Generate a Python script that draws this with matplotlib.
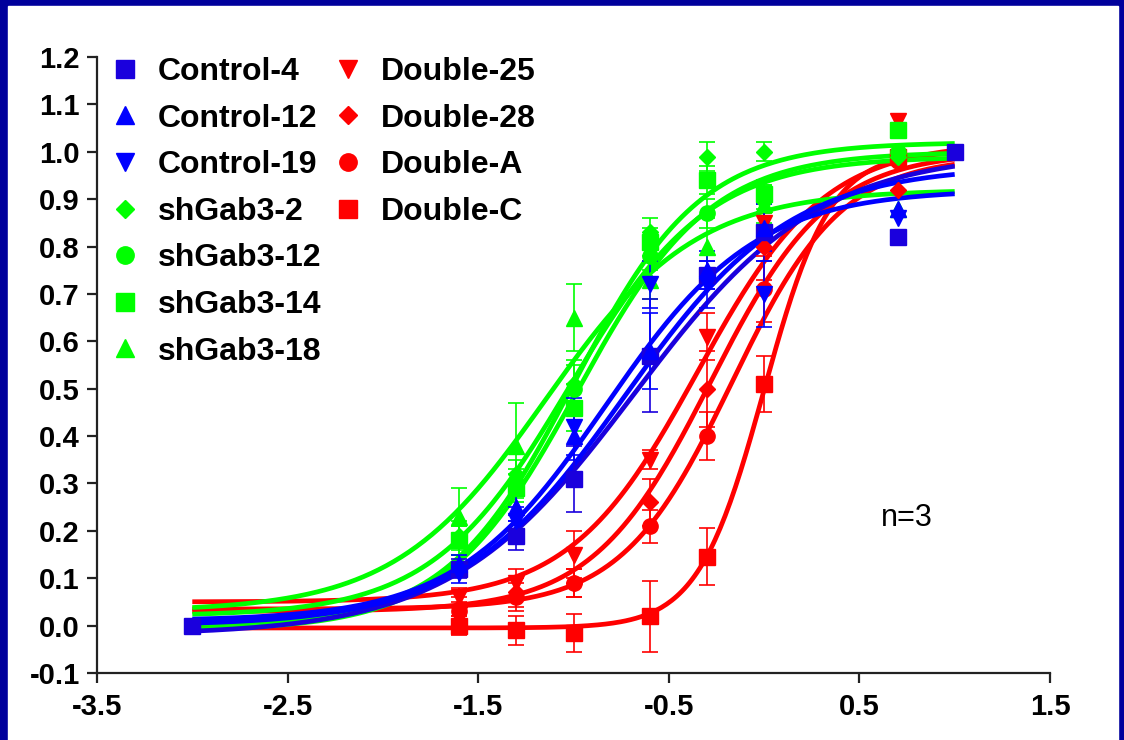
import numpy as np
import matplotlib.pyplot as plt
from matplotlib.lines import Line2D
from matplotlib.patches import Rectangle

plt.rcParams['font.family'] = ['Liberation Sans', 'DejaVu Sans']
plt.rcParams['axes.unicode_minus'] = False

# log concentration of the doses
doses = [-1.6, -1.3, -1.0, -0.6, -0.3, 0.0, 0.7]

labels = ['Control-4', 'Control-12', 'Control-19',
          'shGab3-2', 'shGab3-12', 'shGab3-14', 'shGab3-18',
          'Double-25', 'Double-28', 'Double-A', 'Double-C']

# mean response per dose (Control-4 also has points at -3 and 1)
ctrl4_x = [-3.0] + doses + [1.0]
ctrl4_y = [0.00, 0.12, 0.19, 0.31, 0.57, 0.74, 0.83, 0.82, 1.00]
ctrl4_e = [0.00, 0.02, 0.03, 0.07, 0.12, 0.03, 0.06, 0.00, 0.00]
ctrl12_y = [0.13, 0.25, 0.40, 0.58, 0.75, 0.84, 0.88]
ctrl12_e = [0.02, 0.03, 0.05, 0.08, 0.04, 0.05, 0.00]
ctrl19_y = [0.11, 0.22, 0.42, 0.72, 0.72, 0.70, 0.86]
ctrl19_e = [0.02, 0.03, 0.06, 0.05, 0.05, 0.07, 0.00]
sh2_y = [0.19, 0.32, 0.51, 0.83, 0.99, 1.00, 0.99]
sh2_e = [0.03, 0.03, 0.05, 0.03, 0.03, 0.02, 0.00]
sh12_y = [0.18, 0.30, 0.50, 0.78, 0.87, 0.90, 1.00]
sh12_e = [0.03, 0.03, 0.05, 0.03, 0.03, 0.03, 0.00]
sh14_y = [0.18, 0.29, 0.46, 0.81, 0.94, 0.91, 1.045]
sh14_e = [0.03, 0.03, 0.05, 0.03, 0.03, 0.03, 0.00]
sh18_y = [0.23, 0.38, 0.65, 0.73, 0.80, 0.89, 0.88]
sh18_e = [0.06, 0.09, 0.07, 0.04, 0.06, 0.04, 0.00]
dbl25_y = [0.06, 0.09, 0.15, 0.35, 0.61, 0.85, 1.065]
dbl25_e = [0.02, 0.03, 0.05, 0.02, 0.05, 0.05, 0.00]
dbl28_y = [0.04, 0.07, 0.09, 0.26, 0.50, 0.80, 0.92]
dbl28_e = [0.02, 0.03, 0.03, 0.05, 0.08, 0.07, 0.00]
dblA_y = [0.03, 0.06, 0.09, 0.21, 0.40, 0.71, 0.98]
dblA_e = [0.02, 0.03, 0.03, 0.035, 0.05, 0.07, 0.00]
dblC_y = [0.00, -0.01, -0.015, 0.02, 0.145, 0.51, 0.99]
dblC_e = [0.02, 0.03, 0.04, 0.075, 0.06, 0.06, 0.00]

# four-parameter logistic fit of each line
fit_bottom = [-0.02, 0.00, 0.01, 0.00, 0.02, -0.01, 0.03, 0.05, 0.03, 0.035, -0.005]
fit_top = [1.00, 0.97, 0.92, 1.02, 0.99, 1.00, 0.92, 1.02, 1.00, 0.99, 1.00]
fit_logec50 = [-0.68, -0.73, -0.83, -1.00, -1.02, -0.98, -1.15, -0.35, -0.28, -0.17, 0.00]
fit_hill = [0.90, 1.00, 1.10, 1.30, 1.20, 1.25, 1.10, 1.30, 1.40, 1.50, 2.50]

xs = [ctrl4_x] + [doses] * 10
ys = [ctrl4_y, ctrl12_y, ctrl19_y, sh2_y, sh12_y, sh14_y, sh18_y,
      dbl25_y, dbl28_y, dblA_y, dblC_y]
es = [ctrl4_e, ctrl12_e, ctrl19_e, sh2_e, sh12_e, sh14_e, sh18_e,
      dbl25_e, dbl28_e, dblA_e, dblC_e]

blue = '#0000FF'
green = '#00FF00'
red = '#FF0000'
colors = ['#1A00DD', blue, blue, green, green, green, green, red, red, red, red]
markers = ['s', '^', 'v', 'D', 'o', 's', '^', 'v', 'D', 'o', 's']

fig = plt.figure(figsize=(11.24, 7.40), dpi=100, facecolor='#00009C')
fig.add_artist(Rectangle((8 / 1124, 0), 1110 / 1124, 734 / 740,
                         transform=fig.transFigure, color='white', zorder=-5))
ax = fig.add_axes([97 / 1124, 67 / 740, 953 / 1124, 616 / 740])
ax.patch.set_alpha(0)

xfit = np.linspace(-3, 1, 300)
order = [7, 8, 9, 10, 3, 4, 5, 6, 0, 1, 2]
for i in order:
    c = colors[i]
    ms = 8.5 if markers[i] == 'D' else 11
    b, t, e50, h = fit_bottom[i], fit_top[i], fit_logec50[i], fit_hill[i]
    yfit = b + (t - b) / (1 + 10 ** ((e50 - xfit) * h))
    ax.plot(xfit, yfit, color=c, lw=3.4, solid_capstyle='butt', zorder=2)
    x = np.array(xs[i])
    y = np.array(ys[i])
    e = np.array(es[i])
    m = e > 0
    ax.errorbar(x[m], y[m], yerr=e[m], fmt='none', ecolor=c, elinewidth=1.2,
                capsize=6, capthick=1.2, zorder=3)
    ax.plot(x, y, ls='none', marker=markers[i], color=c, ms=ms, mec=c, zorder=4)

ax.set_xlim(-3.5, 1.5)
ax.set_ylim(-0.1, 1.2)
ax.set_xticks(np.arange(-3.5, 1.6, 1.0))
ax.set_yticks(np.round(np.arange(-0.1, 1.21, 0.1), 1))
ax.xaxis.set_major_formatter(plt.FormatStrFormatter('%.1f'))
ax.yaxis.set_major_formatter(plt.FormatStrFormatter('%.1f'))
for s in ['top', 'right']:
    ax.spines[s].set_visible(False)
for s in ['left', 'bottom']:
    ax.spines[s].set_linewidth(1.6)
    ax.spines[s].set_color('#222222')
ax.tick_params(length=7.5, width=1.6, color='#222222', labelsize=21, pad=5)
ax.tick_params(axis='x', pad=7)
for lab in ax.get_xticklabels() + ax.get_yticklabels():
    lab.set_fontweight('bold')

ax.text(0.75, 0.227, 'n=3', fontsize=22, ha='center', va='center')

def handle(i):
    ms = 9 if markers[i] == 'D' else 12.5
    return Line2D([], [], ls='none', marker=markers[i], color=colors[i], ms=ms)

prop = {'weight': 'bold', 'size': 23}
leg_kw = dict(loc='upper left', frameon=False, prop=prop, handlelength=1.0,
              handletextpad=0.53, labelspacing=0.52, borderaxespad=0, borderpad=0)
leg1 = ax.legend([handle(i) for i in range(7)], labels[:7],
                 bbox_to_anchor=(0.0126, 1.0), **leg_kw)
ax.add_artist(leg1)
ax.legend([handle(i) for i in range(7, 11)], labels[7:],
          bbox_to_anchor=(0.2466, 1.0), **leg_kw)

plt.savefig('out.png', dpi=100, facecolor=fig.get_facecolor())
